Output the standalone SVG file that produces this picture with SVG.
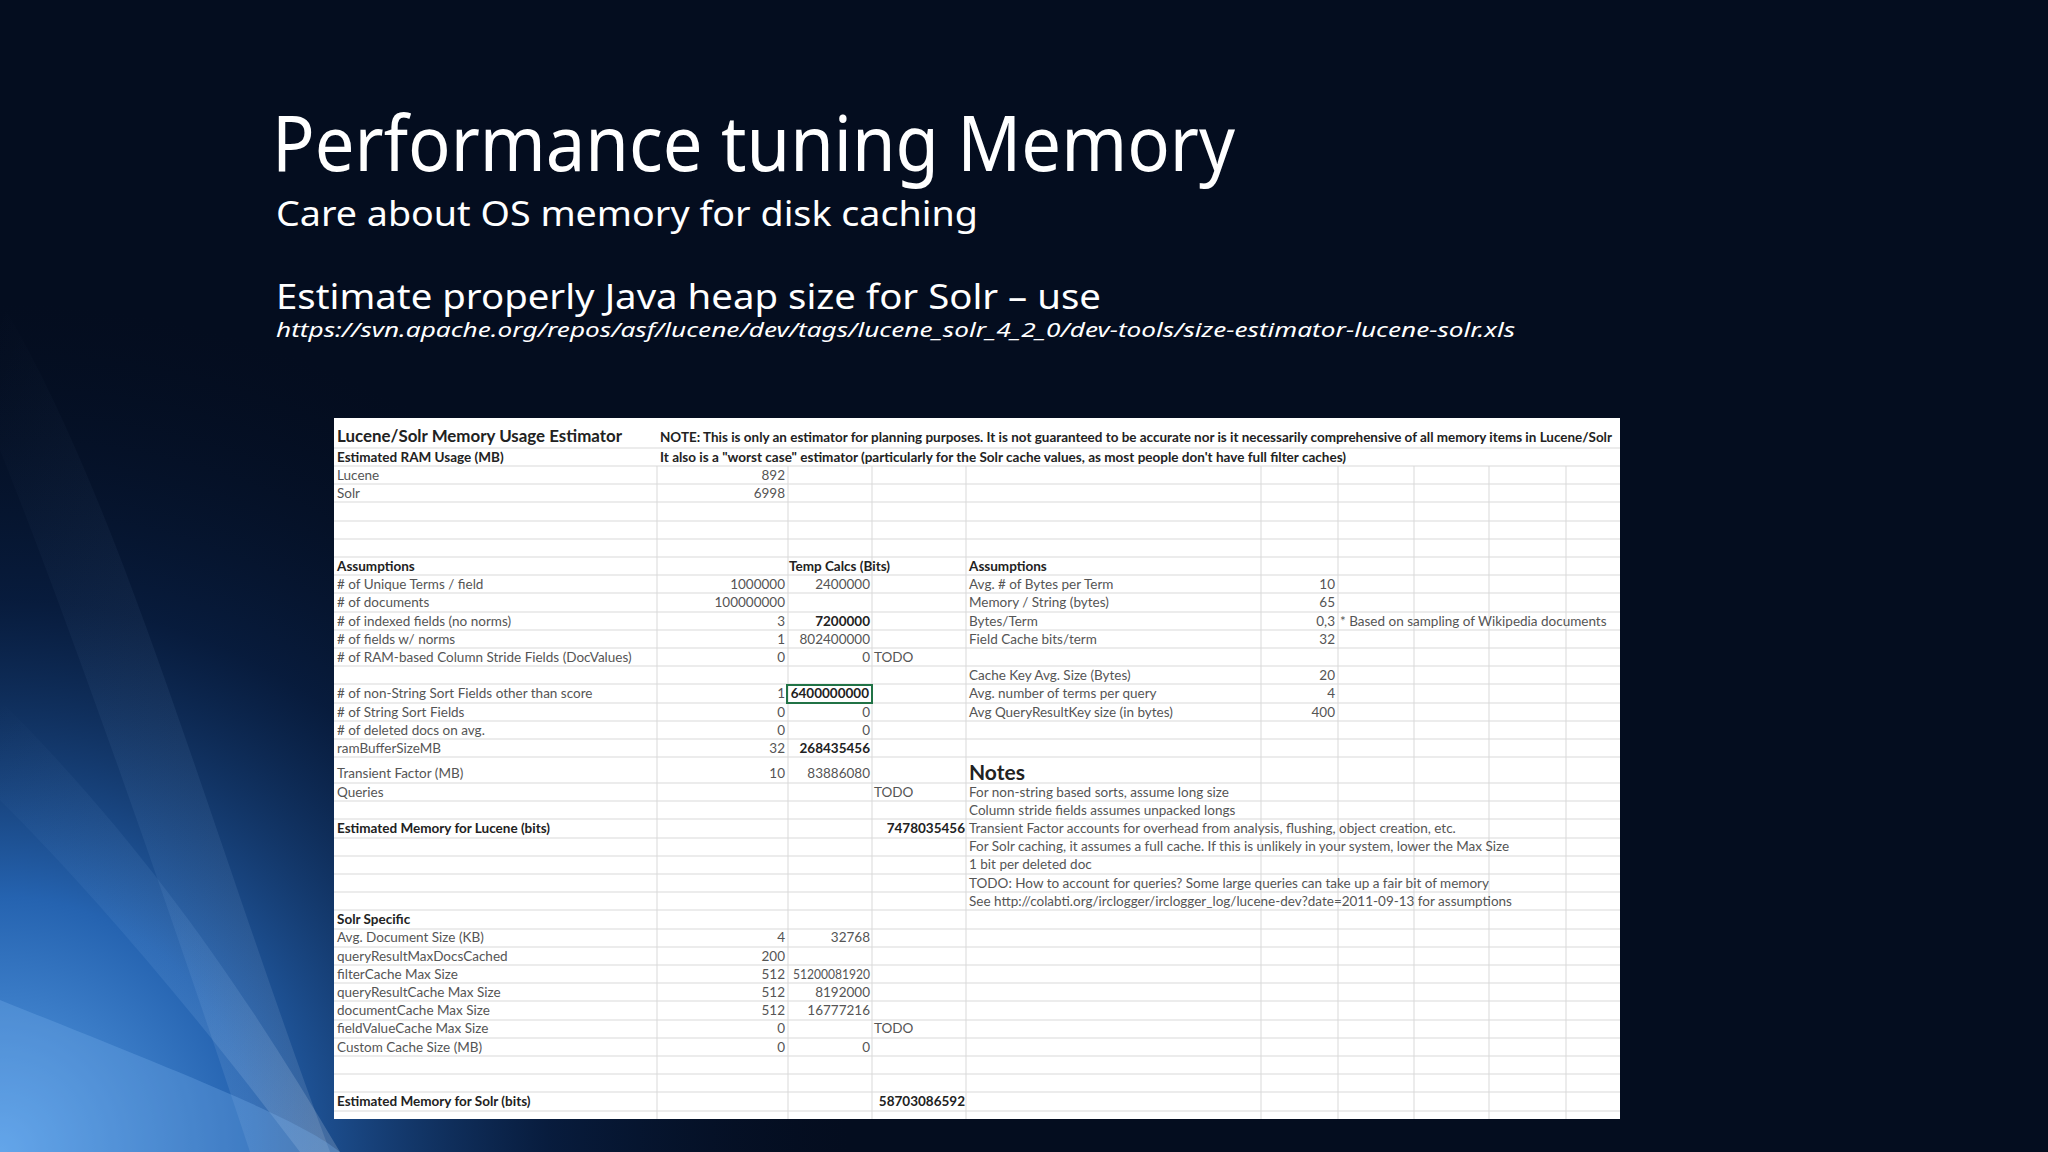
<svg xmlns="http://www.w3.org/2000/svg" width="2048" height="1152" viewBox="0 0 2048 1152">
<defs>
<radialGradient id="glow" cx="0" cy="1152" r="850" gradientUnits="userSpaceOnUse">
<stop offset="0" stop-color="#5aa0e8"/>
<stop offset="0.3" stop-color="#2563b0"/>
<stop offset="0.65" stop-color="#0a2550" stop-opacity="0.6"/>
<stop offset="1" stop-color="#05132b" stop-opacity="0"/>
</radialGradient>
<linearGradient id="streak" x1="0" y1="0" x2="1" y2="1">
<stop offset="0" stop-color="#9cc8f5" stop-opacity="0"/>
<stop offset="0.6" stop-color="#9cc8f5" stop-opacity="0.4"/>
<stop offset="1" stop-color="#ffffff" stop-opacity="0.6"/>
</linearGradient>
<style>
.h{font-family:"Noto Sans","Liberation Sans",sans-serif;fill:#ffffff}
.c{font-family:Lato,"Liberation Sans",sans-serif;font-size:13.5px;fill:#555}
.b{font-weight:bold;fill:#222}
.r{text-anchor:end}
.g{stroke:#d9d9d9;stroke-width:1;fill:none}
</style>
</defs>
<rect width="2048" height="1152" fill="#040d1f"/>
<rect width="2048" height="1152" fill="url(#glow)"/>
<path d="M0 300 C120 500 200 800 330 1152 L250 1152 C150 850 60 600 0 450 Z" fill="url(#streak)" opacity="0.2"/>
<path d="M0 700 C150 850 250 1000 340 1152 L300 1152 C200 1020 100 900 0 800 Z" fill="url(#streak)" opacity="0.3"/>
<path d="M0 1000 C200 1080 300 1120 340 1152 L0 1152 Z" fill="#7ab4ee" opacity="0.3"/>

<g id="title">
<text class="h" x="272" y="171" font-size="76" textLength="963" lengthAdjust="spacingAndGlyphs">Performance tuning Memory</text>
<text class="h" x="276" y="226" font-size="35" textLength="702" lengthAdjust="spacingAndGlyphs">Care about OS memory for disk caching</text>
<text class="h" x="276" y="309" font-size="35" textLength="825" lengthAdjust="spacingAndGlyphs">Estimate properly Java heap size for Solr – use</text>
<text class="h" x="276" y="337" font-size="20" font-style="italic" textLength="1239" lengthAdjust="spacingAndGlyphs">https://svn.apache.org/repos/asf/lucene/dev/tags/lucene_solr_4_2_0/dev-tools/size-estimator-lucene-solr.xls</text>
</g>

<g id="sheet">
<rect x="334" y="418" width="1286" height="701" fill="#ffffff"/>
<path class="g" d="M334 448H1620M334 466H1620M334 484H1620M334 502H1620M334 521H1620M334 539H1620M334 557H1620M334 575H1620M334 593H1620M334 612H1620M334 630H1620M334 648H1620M334 666H1620M334 684H1620M334 703H1620M334 721H1620M334 739H1620M334 757H1620M334 783H1620M334 801H1620M334 819H1620M334 838H1620M334 856H1620M334 874H1620M334 892H1620M334 910H1620M334 929H1620M334 947H1620M334 965H1620M334 983H1620M334 1001H1620M334 1020H1620M334 1038H1620M334 1056H1620M334 1074H1620M334 1092H1620M334 1111H1620"/>
<path class="g" d="M657 466V1119M788 466V1119M872 466V1119M966 466V1119M1261 466V1119M1338 466V1119M1414 466V1119M1489 466V1119M1566 466V1119"/>
<rect x="787" y="685" width="85" height="18" fill="none" stroke="#217346" stroke-width="2"/>

<text class="c b" x="337" y="442" style="font-size:17px" textLength="285" lengthAdjust="spacingAndGlyphs">Lucene/Solr Memory Usage Estimator</text>
<text class="c b" x="660" y="442" style="font-size:12.5px" textLength="952" lengthAdjust="spacingAndGlyphs">NOTE: This is only an estimator for planning purposes.  It is not guaranteed to be accurate nor is it necessarily comprehensive of all memory items in Lucene/Solr</text>
<text class="c b" x="337" y="462">Estimated RAM Usage (MB)</text>
<text class="c b" x="660" y="462" style="font-size:12.5px" textLength="686" lengthAdjust="spacingAndGlyphs">It also is a "worst case" estimator (particularly for the Solr cache values, as most people don't have full filter caches)</text>
<text class="c" x="337" y="480">Lucene</text><text class="c r" x="785" y="480">892</text>
<text class="c" x="337" y="498">Solr</text><text class="c r" x="785" y="498">6998</text>

<text class="c b" x="337" y="571">Assumptions</text>
<text class="c b" x="789" y="571">Temp Calcs (Bits)</text>
<text class="c b" x="969" y="571">Assumptions</text>

<text class="c" x="337" y="589"># of Unique Terms / field</text><text class="c r" x="785" y="589">1000000</text><text class="c r" x="870" y="589">2400000</text>
<text class="c" x="969" y="589">Avg. # of Bytes per Term</text><text class="c r" x="1335" y="589">10</text>
<text class="c" x="337" y="607"># of documents</text><text class="c r" x="785" y="607">100000000</text>
<text class="c" x="969" y="607">Memory / String (bytes)</text><text class="c r" x="1335" y="607">65</text>
<text class="c" x="337" y="626"># of indexed fields (no norms)</text><text class="c r" x="785" y="626">3</text><text class="c r b" x="870" y="626">7200000</text>
<text class="c" x="969" y="626">Bytes/Term</text><text class="c r" x="1335" y="626">0,3</text><text class="c" x="1340" y="626">* Based on sampling of Wikipedia documents</text>
<text class="c" x="337" y="644"># of fields w/ norms</text><text class="c r" x="785" y="644">1</text><text class="c r" x="870" y="644">802400000</text>
<text class="c" x="969" y="644">Field Cache bits/term</text><text class="c r" x="1335" y="644">32</text>
<text class="c" x="337" y="662"># of RAM-based Column Stride Fields (DocValues)</text><text class="c r" x="785" y="662">0</text><text class="c r" x="870" y="662">0</text><text class="c" x="874" y="662">TODO</text>
<text class="c" x="969" y="680">Cache Key Avg. Size (Bytes)</text><text class="c r" x="1335" y="680">20</text>
<text class="c" x="337" y="698"># of non-String Sort Fields other than score</text><text class="c r" x="785" y="698">1</text><text class="c r b" x="869" y="698">6400000000</text>
<text class="c" x="969" y="698">Avg. number of terms per query</text><text class="c r" x="1335" y="698">4</text>
<text class="c" x="337" y="717"># of String Sort Fields</text><text class="c r" x="785" y="717">0</text><text class="c r" x="870" y="717">0</text>
<text class="c" x="969" y="717">Avg QueryResultKey size (in bytes)</text><text class="c r" x="1335" y="717">400</text>
<text class="c" x="337" y="735"># of deleted docs on avg.</text><text class="c r" x="785" y="735">0</text><text class="c r" x="870" y="735">0</text>
<text class="c" x="337" y="753">ramBufferSizeMB</text><text class="c r" x="785" y="753">32</text><text class="c r b" x="870" y="753">268435456</text>

<text class="c" x="337" y="778">Transient Factor (MB)</text><text class="c r" x="785" y="778">10</text><text class="c r" x="870" y="778">83886080</text>
<text class="c b" x="969" y="780" style="font-size:21px">Notes</text>
<text class="c" x="337" y="797">Queries</text><text class="c" x="874" y="797">TODO</text>
<text class="c" x="969" y="797">For non-string based sorts, assume long size</text>
<text class="c" x="969" y="815">Column stride fields assumes unpacked longs</text>
<text class="c b" x="337" y="833">Estimated Memory for Lucene (bits)</text><text class="c r b" x="965" y="833">7478035456</text>
<text class="c" x="969" y="833">Transient Factor accounts for overhead from analysis, flushing, object creation, etc.</text>
<text class="c" x="969" y="851">For Solr caching, it assumes a full cache.  If this is unlikely in your system, lower the Max Size</text>
<text class="c" x="969" y="869">1 bit per deleted doc</text>
<text class="c" x="969" y="888">TODO: How to account for queries?  Some large queries can take up a fair bit of memory</text>
<text class="c" x="969" y="906">See http://colabti.org/irclogger/irclogger_log/lucene-dev?date=2011-09-13 for assumptions</text>
<text class="c b" x="337" y="924">Solr Specific</text>
<text class="c" x="337" y="942">Avg. Document Size (KB)</text><text class="c r" x="785" y="942">4</text><text class="c r" x="870" y="942">32768</text>
<text class="c" x="337" y="961">queryResultMaxDocsCached</text><text class="c r" x="785" y="961">200</text>
<text class="c" x="337" y="979">filterCache Max Size</text><text class="c r" x="785" y="979">512</text><text class="c r" x="870" y="979" textLength="77" lengthAdjust="spacingAndGlyphs">51200081920</text>
<text class="c" x="337" y="997">queryResultCache Max Size</text><text class="c r" x="785" y="997">512</text><text class="c r" x="870" y="997">8192000</text>
<text class="c" x="337" y="1015">documentCache Max Size</text><text class="c r" x="785" y="1015">512</text><text class="c r" x="870" y="1015">16777216</text>
<text class="c" x="337" y="1033">fieldValueCache Max Size</text><text class="c r" x="785" y="1033">0</text><text class="c" x="874" y="1033">TODO</text>
<text class="c" x="337" y="1052">Custom Cache Size (MB)</text><text class="c r" x="785" y="1052">0</text><text class="c r" x="870" y="1052">0</text>
<text class="c b" x="337" y="1106">Estimated Memory for Solr (bits)</text><text class="c r b" x="965" y="1106">58703086592</text>
</g>
</svg>
